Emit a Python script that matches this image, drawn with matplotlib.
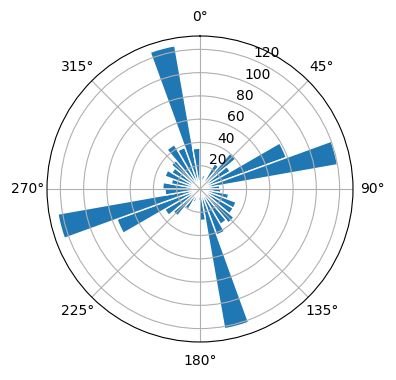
import matplotlib
matplotlib.use('Agg')
import matplotlib.pyplot as plt
import numpy as np

# bin centres (degrees) and counts
bin_centres = np.arange(5, 360, 10)
counts = [10, 12, 8, 25, 40, 30, 79, 120, 17,
          18, 25, 33, 33, 38, 35, 42, 122, 27,
          10, 8, 12, 20, 30, 35, 76, 124, 30,
          32, 25, 32, 28, 32, 44, 38, 125, 35]

fig = plt.figure(figsize=(3.96, 3.8), dpi=100)
ax = fig.add_axes([0.1187, 0.1, 0.7727, 0.8053], projection='polar')
ax.set_theta_zero_location('N')
ax.set_theta_direction(-1)

width = np.deg2rad(10)
ax.bar(np.deg2rad(bin_centres), counts, width=width, color='tab:blue',
       edgecolor='white', linewidth=1)

ax.set_rlim(0, 131.5)
ax.set_rticks([20, 40, 60, 80, 100, 120])

fig.savefig('out.png', dpi=100)
